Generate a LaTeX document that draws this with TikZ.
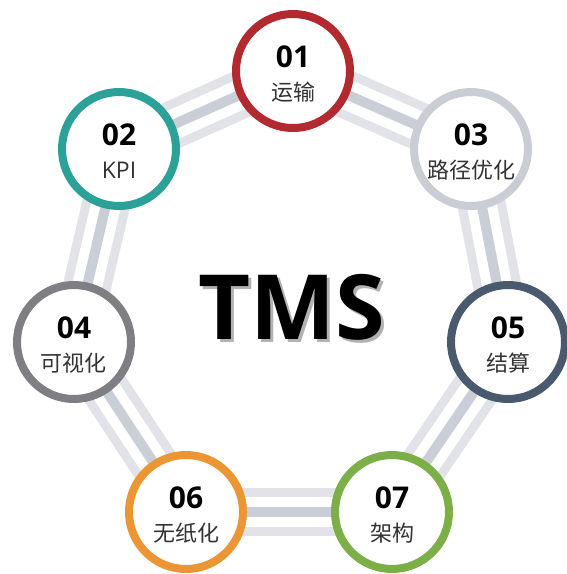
\documentclass[tikz,border=0pt]{standalone}
\usepackage{fontspec}
\setmainfont{Open Sans}
\newfontfamily\cjk{Noto Sans CJK SC}
\usetikzlibrary{backgrounds}

\definecolor{railLight}{HTML}{E1E3E8}
\definecolor{railDark}{HTML}{CACED6}
\definecolor{cRed}{HTML}{B22A30}
\definecolor{cTeal}{HTML}{2BA197}
\definecolor{cSilver}{HTML}{CACDD4}
\definecolor{cGray}{HTML}{7F7E83}
\definecolor{cSlate}{HTML}{4A5A6E}
\definecolor{cOrange}{HTML}{EC9535}
\definecolor{cGreen}{HTML}{7DAF48}
\definecolor{labelGray}{HTML}{333333}

\tikzset{
  station/.style={circle, draw=#1, line width=8pt, fill=white, minimum size=114pt, inner sep=0pt},
  num/.style={font=\fontsize{30}{30}\selectfont\bfseries, inner sep=0pt},
  tag/.style={font=\fontsize{22}{22}\selectfont\cjk, text=labelGray, inner sep=0pt},
  title/.style={font=\fontsize{90}{90}\selectfont\bfseries, inner sep=0pt},
  rail/.style={draw=railLight, line width=48pt,
    postaction={draw=white, line width=30pt},
    postaction={draw=railDark, line width=10pt}}
}

\begin{document}
\begin{tikzpicture}[x=1pt, y=-1pt]

  \useasboundingbox (0,0) rectangle (567,574);

  \newcommand\NUP{14pt}
  \newcommand\TDOWN{-21pt}

  \node[station=cRed]    (n01) at (293,71)  {};
  \node[station=cTeal]   (n02) at (119,149) {};
  \node[station=cSilver] (n03) at (471,149) {};
  \node[station=cGray]   (n04) at (74,342)  {};
  \node[station=cSlate]  (n05) at (508,342) {};
  \node[station=cOrange] (n06) at (186,512) {};
  \node[station=cGreen]  (n07) at (392,512) {};

  \node[num] (n01num) at ([yshift=\NUP]n01.center) {01};
  \node[tag] (n01tag) at ([yshift=\TDOWN]n01.center) {运输};
  \node[num] (n02num) at ([yshift=\NUP]n02.center) {02};
  \node[tag, font=\fontsize{23}{23}\selectfont] (n02tag) at ([yshift=\TDOWN]n02.center) {KPI};
  \node[num] (n03num) at ([yshift=\NUP]n03.center) {03};
  \node[tag] (n03tag) at ([yshift=\TDOWN]n03.center) {路径优化};
  \node[num] (n04num) at ([yshift=\NUP]n04.center) {04};
  \node[tag] (n04tag) at ([yshift=\TDOWN]n04.center) {可视化};
  \node[num] (n05num) at ([yshift=\NUP]n05.center) {05};
  \node[tag] (n05tag) at ([yshift=\TDOWN]n05.center) {结算};
  \node[num] (n06num) at ([yshift=\NUP]n06.center) {06};
  \node[tag] (n06tag) at ([yshift=\TDOWN]n06.center) {无纸化};
  \node[num] (n07num) at ([yshift=\NUP]n07.center) {07};
  \node[tag] (n07tag) at ([yshift=\TDOWN]n07.center) {架构};

  % title with a soft shadow
  \node[title, text=black, text opacity=0.3] (tmsshadow) at (295,310) {TMS};
  \node[title] (tms) at (292,307) {TMS};

  \begin{scope}[on background layer]
    \foreach \a/\b in {n01/n03, n03/n05, n05/n07, n07/n06, n06/n04, n04/n02, n02/n01}
      \draw[rail] (\a.center) -- (\b.center);
  \end{scope}

\end{tikzpicture}
\end{document}
